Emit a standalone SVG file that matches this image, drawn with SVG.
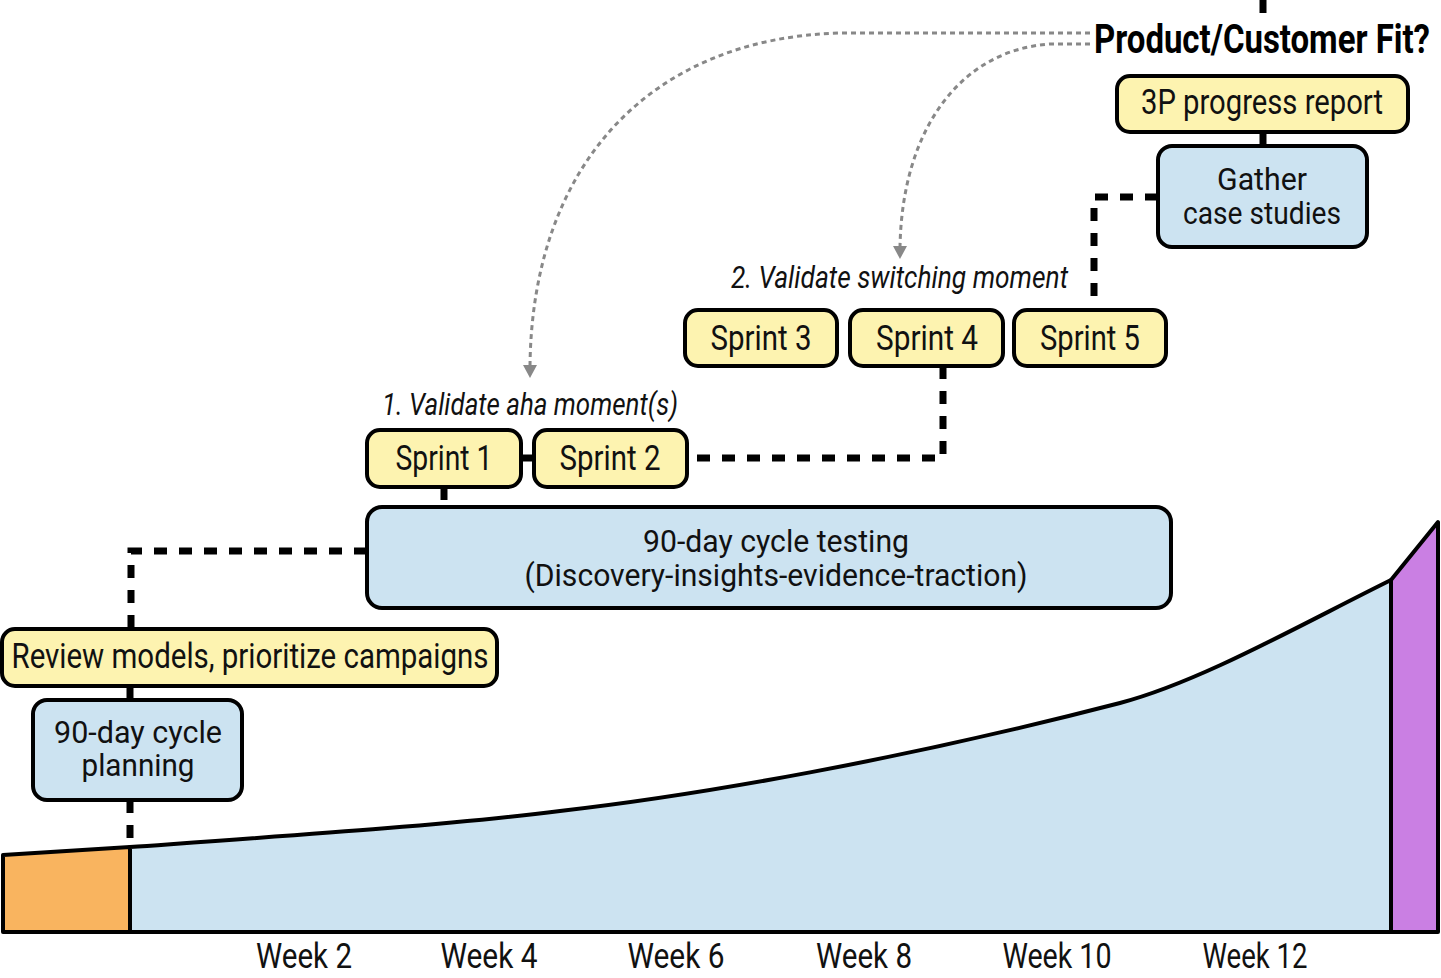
<svg xmlns="http://www.w3.org/2000/svg" width="1441" height="978" viewBox="0 0 1441 978">
<defs>
<style>
.y{fill:#fdf3b0;stroke:#000;stroke-width:4}
.b{fill:#cce3f1;stroke:#000;stroke-width:4}
.t{font-family:Roboto,"Liberation Sans",sans-serif;font-size:35px;fill:#111;text-anchor:middle}
.t2{font-family:Roboto,"Liberation Sans",sans-serif;font-size:32px;fill:#111;text-anchor:middle}
.i{font-family:Roboto,"Liberation Sans",sans-serif;font-size:32px;font-style:italic;fill:#111}
.h{font-family:Roboto,"Liberation Sans",sans-serif;font-size:41px;font-weight:bold;fill:#000}
.d{fill:none;stroke:#000;stroke-width:7;stroke-dasharray:13 12}
.g{fill:none;stroke:#888;stroke-width:3;stroke-dasharray:5 4}
.area{stroke:#000;stroke-width:4;stroke-linejoin:round}
</style>
</defs>

<g id="chart">
<path class="area" d="M3,855 L130,847 L130,932 L3,932 Z" fill="#f9b45f"/>
<path class="area" d="M130,847 C300,835 450,825 560,811 C700,795 900,760 1120,703 C1200,682 1300,625 1391,580 L1391,932 L130,932 Z" fill="#cce3f1"/>
<path class="area" d="M1391,580 L1438,522 L1438,932 L1391,932 Z" fill="#ca7fe3"/>
</g>

<g id="connectors">
<path class="d" d="M1263,0 V76"/>
<path class="d" d="M1263,132 V146"/>
<path class="d" d="M1158,197 H1094 V310"/>
<path class="d" d="M943,366 V458 H687"/>
<path class="d" d="M521,458 H534"/>
<path class="d" d="M444,487 V507"/>
<path class="d" d="M367,551 H131 V629"/>
<path class="d" d="M130,686 V700"/>
<path class="d" d="M130,800 V847"/>
<path class="g" d="M1090,33 L840,33 C650,38 532,165 530,366"/>
<path d="M523,365 L537,365 L530,378 Z" fill="#888"/>
<path class="g" d="M1090,44 L1050,44 C960,50 902,130 900,247"/>
<path d="M893,246 L907,246 L900,259 Z" fill="#888"/>
</g>

<g id="title"><rect x="1092" y="22" width="346" height="44" fill="#fff"/>
<text class="h" x="1094" y="53" textLength="336" lengthAdjust="spacingAndGlyphs">Product/Customer Fit?</text></g>

<g id="progress"><rect class="y" x="1117" y="76" width="291" height="56" rx="13"/>
<text class="t" x="1262" y="114" textLength="242" lengthAdjust="spacingAndGlyphs">3P progress report</text></g>

<g id="gather"><rect class="b" x="1158" y="146" width="209" height="101" rx="14"/>
<text class="t2" x="1262" y="190" textLength="90" lengthAdjust="spacingAndGlyphs">Gather</text>
<text class="t2" x="1262" y="224" textLength="158" lengthAdjust="spacingAndGlyphs">case studies</text></g>

<g id="label2"><text class="i" x="731" y="288" textLength="337" lengthAdjust="spacingAndGlyphs">2. Validate switching moment</text></g>

<g id="sprint3"><rect class="y" x="685" y="310" width="152" height="56" rx="13"/>
<text class="t" x="761" y="350" textLength="101" lengthAdjust="spacingAndGlyphs">Sprint 3</text></g>
<g id="sprint4"><rect class="y" x="850" y="310" width="153" height="56" rx="13"/>
<text class="t" x="927" y="350" textLength="102" lengthAdjust="spacingAndGlyphs">Sprint 4</text></g>
<g id="sprint5"><rect class="y" x="1014" y="310" width="152" height="56" rx="13"/>
<text class="t" x="1090" y="350" textLength="100" lengthAdjust="spacingAndGlyphs">Sprint 5</text></g>

<g id="label1"><text class="i" x="382" y="415" textLength="296" lengthAdjust="spacingAndGlyphs">1. Validate aha moment(s)</text></g>

<g id="sprint1"><rect class="y" x="367" y="430" width="154" height="57" rx="13"/>
<text class="t" x="444" y="470" textLength="97" lengthAdjust="spacingAndGlyphs">Sprint 1</text></g>
<g id="sprint2"><rect class="y" x="534" y="430" width="153" height="57" rx="13"/>
<text class="t" x="610" y="470" textLength="101" lengthAdjust="spacingAndGlyphs">Sprint 2</text></g>

<g id="testing"><rect class="b" x="367" y="507" width="804" height="101" rx="15"/>
<text class="t2" x="776" y="552" textLength="266" lengthAdjust="spacingAndGlyphs">90-day cycle testing</text>
<text class="t2" x="776" y="586" textLength="503" lengthAdjust="spacingAndGlyphs">(Discovery-insights-evidence-traction)</text></g>

<g id="review"><rect class="y" x="2" y="629" width="495" height="57" rx="13"/>
<text class="t" x="250" y="668" textLength="477" lengthAdjust="spacingAndGlyphs">Review models, prioritize campaigns</text></g>

<g id="planning"><rect class="b" x="33" y="700" width="209" height="100" rx="14"/>
<text class="t2" x="138" y="743" textLength="168" lengthAdjust="spacingAndGlyphs">90-day cycle</text>
<text class="t2" x="138" y="776" textLength="113" lengthAdjust="spacingAndGlyphs">planning</text></g>

<g id="weeks">
<text class="t" x="304" y="968" textLength="96" lengthAdjust="spacingAndGlyphs">Week 2</text>
<text class="t" x="489" y="968" textLength="97" lengthAdjust="spacingAndGlyphs">Week 4</text>
<text class="t" x="676" y="968" textLength="97" lengthAdjust="spacingAndGlyphs">Week 6</text>
<text class="t" x="864" y="968" textLength="96" lengthAdjust="spacingAndGlyphs">Week 8</text>
<text class="t" x="1057" y="968" textLength="109" lengthAdjust="spacingAndGlyphs">Week 10</text>
<text class="t" x="1255" y="968" textLength="105" lengthAdjust="spacingAndGlyphs">Week 12</text>
</g>
</svg>
